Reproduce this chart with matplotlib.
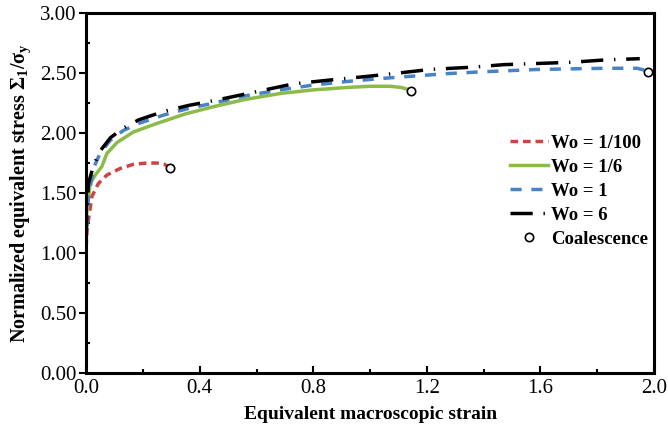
import numpy as np
import matplotlib.pyplot as plt
from matplotlib.ticker import MultipleLocator

plt.rcParams['font.family'] = ['Liberation Serif', 'DejaVu Serif']
plt.rcParams['mathtext.default'] = 'regular'

# Wo = 1/100
x_w100 = [0.0, 0.0, 0.003, 0.008, 0.02, 0.043, 0.073, 0.12, 0.167, 0.214, 0.25, 0.275, 0.29]
y_w100 = [0.0, 1.05, 1.18, 1.275, 1.47, 1.58, 1.65, 1.705, 1.74, 1.75, 1.75, 1.74, 1.72]

# Wo = 1/6
x_w6inv = [0.0, 0.0, 0.005, 0.014, 0.032, 0.055, 0.073, 0.108, 0.167, 0.249, 0.35, 0.449,
           0.56, 0.684, 0.8, 0.92, 1.0, 1.07, 1.11, 1.14]
y_w6inv = [0.0, 1.30, 1.39, 1.58, 1.65, 1.72, 1.83, 1.92, 2.01, 2.08, 2.16, 2.22,
           2.28, 2.33, 2.36, 2.38, 2.39, 2.39, 2.38, 2.36]

# Wo = 1
x_w1 = [0.0, 0.0, 0.008, 0.026, 0.049, 0.085, 0.13, 0.185, 0.273, 0.36, 0.449, 0.56, 0.684,
        0.8, 0.92, 1.04, 1.154, 1.27, 1.39, 1.59, 1.825, 1.94, 1.975]
y_w1 = [0.0, 1.08, 1.47, 1.71, 1.83, 1.94, 2.02, 2.08, 2.15, 2.205, 2.25, 2.31, 2.36,
        2.40, 2.43, 2.455, 2.475, 2.495, 2.51, 2.53, 2.54, 2.54, 2.52]

# Wo = 6
x_w6 = [0.0, 0.0, 0.008, 0.026, 0.049, 0.085, 0.13, 0.185, 0.273, 0.36, 0.449, 0.55, 0.65,
        0.73, 0.85, 0.98, 1.1, 1.21, 1.366, 1.47, 1.59, 1.71, 1.83, 1.95]
y_w6 = [0.0, 1.20, 1.58, 1.73, 1.85, 1.96, 2.04, 2.11, 2.18, 2.23, 2.27, 2.32, 2.37,
        2.41, 2.44, 2.47, 2.50, 2.53, 2.55, 2.57, 2.58, 2.59, 2.61, 2.62]

# coalescence points
x_coal = [0.296, 1.143, 1.98]
y_coal = [1.71, 2.35, 2.51]

fig = plt.figure(figsize=(6.68, 4.36), dpi=100)
ax = fig.add_axes([0.129, 0.1445, 0.850, 0.8255])

ax.plot(x_w100, y_w100, color='#cc4444', lw=2.5, dashes=(2.2, 1.4), label='Wo = 1/100')
ax.plot(x_w6inv, y_w6inv, color='#8dbb4a', lw=2.5, label='Wo = 1/6')
ax.plot(x_w1, y_w1, color='#4a82c6', lw=2.5, dashes=(3.2, 2.8), label='Wo = 1')
ax.plot(x_w6, y_w6, color='black', lw=2.5, dashes=(6.4, 3.1, 0.4, 3.1), label='Wo = 6')
ax.plot(x_coal, y_coal, 'o', ms=6, mfc='white', mec='black', mew=1.2,
        ls='none', label='Coalescence', zorder=5, clip_on=False)

ax.set_xlim(0, 2.0)
ax.set_ylim(0, 3.0)
ax.xaxis.set_minor_locator(MultipleLocator(0.2))
ax.yaxis.set_minor_locator(MultipleLocator(0.25))
ax.set_xticks(np.arange(0, 2.01, 0.4))
ax.set_xticklabels(['0.0', '0.4', '0.8', '1.2', '1.6', '2.0'])
ax.set_yticks(np.arange(0, 3.01, 0.5))
ax.set_yticklabels([f'{v:.2f}' for v in np.arange(0, 3.01, 0.5)])

ax.tick_params(axis='x', which='major', direction='in', length=5, width=1.5, labelsize=15, pad=4)
ax.tick_params(axis='x', which='minor', direction='in', length=3, width=1.5)
ax.tick_params(axis='y', which='major', direction='out', length=5, width=1.5, labelsize=15, pad=2)
ax.tick_params(axis='y', which='minor', direction='in', length=3, width=1.5)
for s in ax.spines.values():
    s.set_linewidth(2.2)

ax.set_xlabel('Equivalent macroscopic strain', fontsize=14, fontweight='bold', labelpad=6)
ax.set_ylabel('Normalized equivalent stress Σ$_1$/σ$_y$', fontsize=14.5, fontweight='bold', labelpad=5)

leg = ax.legend(loc='center right', bbox_to_anchor=(1.02, 0.505), frameon=False,
                prop={'weight': 'bold', 'size': 13.5}, handlelength=2.0,
                handletextpad=0.2, labelspacing=0.36)

fig.savefig('out.png', dpi=100)
